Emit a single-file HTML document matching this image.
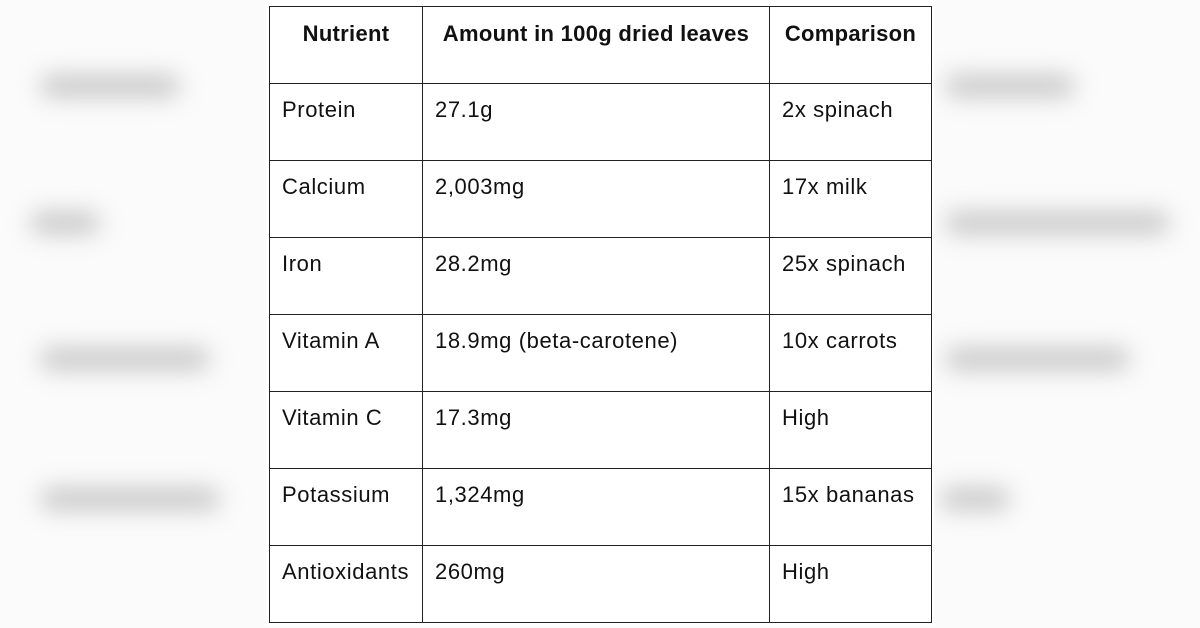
<!DOCTYPE html>
<html><head><meta charset="utf-8"><style>
html,body{margin:0;padding:0;width:1200px;height:628px;overflow:hidden;background:#fbfbfb;font-family:"Liberation Sans",Arial,sans-serif}
.blob{position:absolute;background:#b5b5b5;border-radius:20px;filter:blur(12px);opacity:.75}
#panel{position:absolute;left:266px;top:0;width:668px;height:626px;background:#fff}
table{position:absolute;left:269px;top:6px;border-collapse:collapse;table-layout:fixed}
td,th{border:1.5px solid #222;height:75px;vertical-align:top;padding:0 0 0 12px;font-size:22px;letter-spacing:0.6px;color:#111;line-height:26px;padding-top:13px;box-sizing:border-box;text-align:left;font-weight:normal;white-space:nowrap}
th{font-weight:bold;text-align:center;padding-left:0;padding-top:14px;font-size:22px;letter-spacing:0.3px}
</style></head><body>
<div class="blob" style="left:40px;top:75px;width:140px;height:22px"></div>
<div class="blob" style="left:30px;top:212px;width:70px;height:22px"></div>
<div class="blob" style="left:40px;top:348px;width:170px;height:22px"></div>
<div class="blob" style="left:40px;top:488px;width:180px;height:22px"></div>
<div class="blob" style="left:945px;top:75px;width:130px;height:22px"></div>
<div class="blob" style="left:945px;top:212px;width:225px;height:22px"></div>
<div class="blob" style="left:945px;top:348px;width:185px;height:22px"></div>
<div class="blob" style="left:940px;top:488px;width:70px;height:22px"></div>
<div id="panel"></div>
<table>
<colgroup><col style="width:153px"><col style="width:347px"><col style="width:162px"></colgroup>
<tr style="height:77px"><th style="height:77px">Nutrient</th><th>Amount in 100g dried leaves</th><th>Comparison</th></tr>
<tr style="height:77px"><td style="height:77px">Protein</td><td>27.1g</td><td>2x spinach</td></tr>
<tr style="height:77px"><td style="height:77px">Calcium</td><td>2,003mg</td><td>17x milk</td></tr>
<tr style="height:77px"><td style="height:77px">Iron</td><td>28.2mg</td><td>25x spinach</td></tr>
<tr style="height:77px"><td style="height:77px">Vitamin A</td><td>18.9mg (beta-carotene)</td><td>10x carrots</td></tr>
<tr style="height:77px"><td style="height:77px">Vitamin C</td><td>17.3mg</td><td>High</td></tr>
<tr style="height:77px"><td style="height:77px">Potassium</td><td>1,324mg</td><td>15x bananas</td></tr>
<tr style="height:77px"><td style="height:77px">Antioxidants</td><td>260mg</td><td>High</td></tr>
</table>
</body></html>
